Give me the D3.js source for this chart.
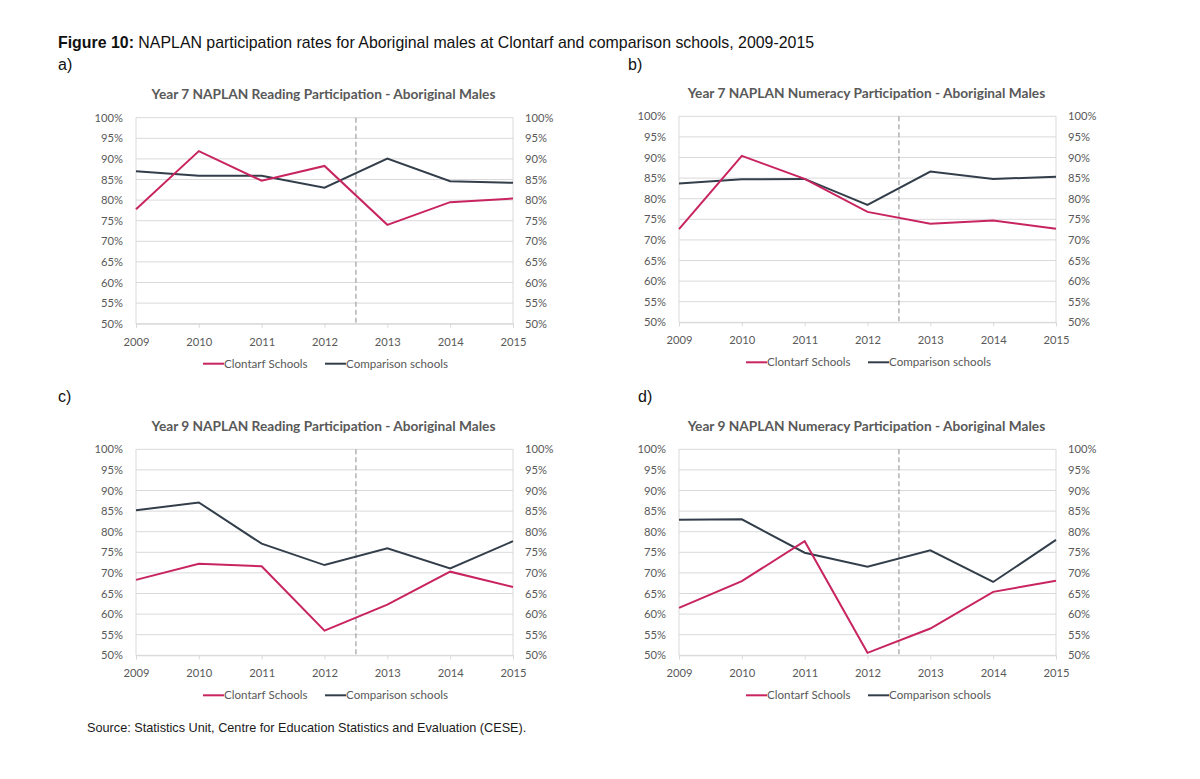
<!DOCTYPE html>
<html><head><meta charset="utf-8">
<script src="https://cdn.jsdelivr.net/npm/d3@7"></script>
<style>body{margin:0;background:#fff;} svg{display:block;}</style>
</head><body>
<svg id="c" width="1200" height="779"></svg>
<script>
const years = [2009, 2010, 2011, 2012, 2013, 2014, 2015];
const yTicks = [50, 55, 60, 65, 70, 75, 80, 85, 90, 95, 100];
const seriesNames = ["Clontarf Schools", "Comparison schools"];

const y7ReadClontarf   = [77.8, 91.9, 84.7, 88.3, 74.0, 79.5, 80.4];
const y7ReadComparison = [87.0, 85.9, 85.9, 83.0, 90.1, 84.6, 84.2];
const y7NumClontarf    = [72.6, 90.4, 84.8, 76.8, 73.9, 74.7, 72.7];
const y7NumComparison  = [83.7, 84.7, 84.8, 78.5, 86.6, 84.8, 85.3];
const y9ReadClontarf   = [68.3, 72.2, 71.6, 56.0, 62.3, 70.3, 66.6];
const y9ReadComparison = [85.2, 87.1, 77.1, 71.9, 76.0, 71.1, 77.7];
const y9NumClontarf    = [61.5, 68.0, 77.7, 50.6, 56.5, 65.4, 68.1];
const y9NumComparison  = [82.9, 83.0, 74.9, 71.5, 75.5, 67.8, 78.0];
const breakYear = 2012.5;

const panels = [
  {title: "Year 7 NAPLAN Reading Participation - Aboriginal Males", a: y7ReadClontarf, b: y7ReadComparison, left: 136, top: 117.7},
  {title: "Year 7 NAPLAN Numeracy Participation - Aboriginal Males", a: y7NumClontarf, b: y7NumComparison, left: 679, top: 116.3},
  {title: "Year 9 NAPLAN Reading Participation - Aboriginal Males", a: y9ReadClontarf, b: y9ReadComparison, left: 136, top: 449.3},
  {title: "Year 9 NAPLAN Numeracy Participation - Aboriginal Males", a: y9NumClontarf, b: y9NumComparison, left: 679, top: 449.3}
];

const W = 377, H = 206;
const colA = "#c8245f", colB = "#333e4b", txt = "#595959", grid = "#d9d9d9";
const svg = d3.select("#c");

// Figure caption
const cap = svg.append("text").attr("x", 58).attr("y", 48)
  .attr("font-family", "Liberation Sans, Arial, sans-serif").attr("font-size", 15.9).attr("fill", "#111");
cap.append("tspan").attr("font-weight", "bold").text("Figure 10:");
cap.append("tspan").text(" NAPLAN participation rates for Aboriginal males at Clontarf and comparison schools, 2009-2015");

const letters = [["a)", 58, 70], ["b)", 628, 70], ["c)", 58, 402], ["d)", 638, 402]];
letters.forEach(l => svg.append("text").attr("x", l[1]).attr("y", l[2])
  .attr("font-family", "Liberation Sans, Arial, sans-serif").attr("font-size", 16).attr("fill", "#111").text(l[0]));

svg.append("text").attr("x", 87).attr("y", 732)
  .attr("font-family", "Liberation Sans, Arial, sans-serif").attr("font-size", 12.7).attr("fill", "#1a1a1a")
  .text("Source: Statistics Unit, Centre for Education Statistics and Evaluation (CESE).");

panels.forEach(p => {
  const g = svg.append("g").attr("transform", `translate(${p.left},${p.top})`);
  const x = d3.scaleLinear().domain([2009, 2015]).range([0, W]);
  const y = d3.scaleLinear().domain([50, 100]).range([H, 0]);
  const font = "Lato, Calibri, sans-serif";

  // gridlines
  g.selectAll(".grid").data(yTicks).enter().append("line")
    .attr("x1", 0).attr("x2", W).attr("y1", d => y(d)).attr("y2", d => y(d))
    .attr("stroke", grid).attr("stroke-width", 1);
  // side borders
  [0, W].forEach(xx => g.append("line").attr("x1", xx).attr("x2", xx).attr("y1", 0).attr("y2", H)
    .attr("stroke", grid).attr("stroke-width", 1));

  // y axis labels
  const fmt = d => d + "%";
  g.append("g").call(d3.axisLeft(y).tickValues(yTicks).tickFormat(fmt).tickSize(0).tickPadding(13))
    .call(s => s.select(".domain").remove())
    .call(s => s.selectAll("text").attr("font-family", font).attr("font-size", 11.2).attr("fill", txt));
  g.append("g").attr("transform", `translate(${W},0)`)
    .call(d3.axisRight(y).tickValues(yTicks).tickFormat(fmt).tickSize(0).tickPadding(12))
    .call(s => s.select(".domain").remove())
    .call(s => s.selectAll("text").attr("font-family", font).attr("font-size", 11.2).attr("fill", txt));

  // x axis
  g.append("g").attr("transform", `translate(0,${H})`)
    .call(d3.axisBottom(x).tickValues(years).tickFormat(d3.format("d")).tickSize(4).tickPadding(10))
    .call(s => s.select(".domain").attr("stroke", grid))
    .call(s => s.selectAll("line").attr("stroke", grid))
    .call(s => s.selectAll("text").attr("font-family", font).attr("font-size", 11.2).attr("fill", txt));

  // dashed break
  g.append("line").attr("x1", x(breakYear)).attr("x2", x(breakYear)).attr("y1", 0).attr("y2", H)
    .attr("stroke", "#a6a6a6").attr("stroke-width", 1.3).attr("stroke-dasharray", "5,3");

  const line = d3.line().x((d, i) => x(years[i])).y(d => y(d));
  g.append("path").datum(p.b).attr("d", line).attr("fill", "none").attr("stroke", colB).attr("stroke-width", 2);
  g.append("path").datum(p.a).attr("d", line).attr("fill", "none").attr("stroke", colA).attr("stroke-width", 2);

  // title
  g.append("text").attr("x", W / 2 - 1).attr("y", -18.5).attr("text-anchor", "middle")
    .attr("font-family", font).attr("font-weight", "bold").attr("font-size", 13.7).attr("fill", txt)
    .text(p.title);

  // legend
  const ly = 246;
  const lg = [[seriesNames[0], colA, 67], [seriesNames[1], colB, 189]];
  lg.forEach(l => {
    g.append("line").attr("x1", l[2]).attr("x2", l[2] + 21).attr("y1", ly).attr("y2", ly)
      .attr("stroke", l[1]).attr("stroke-width", 2);
    g.append("text").attr("x", l[2] + 21).attr("y", ly + 4).attr("font-family", font)
      .attr("font-size", 11.6).attr("fill", txt).text(l[0]);
  });
});
</script>
</body></html>
